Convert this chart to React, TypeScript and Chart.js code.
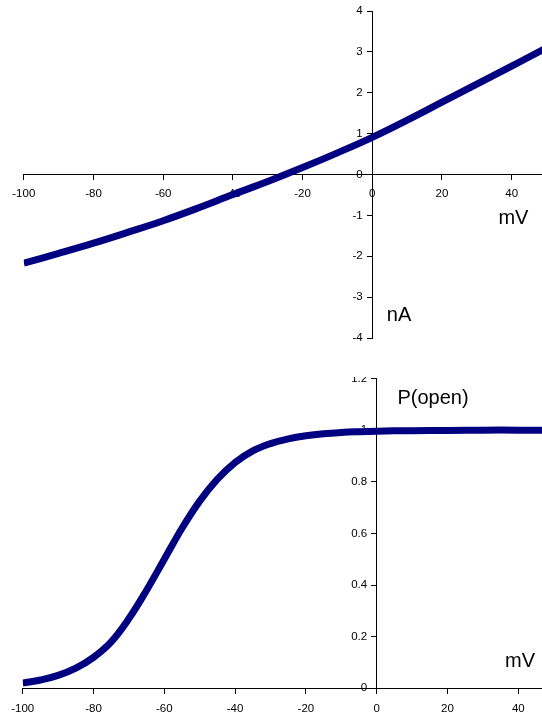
import React, { useEffect, useRef } from "react";
import { Chart, registerables } from "chart.js";

Chart.register(...registerables);

// ---- Data ----
const ivVoltages = [-100, -90, -80, -70, -60, -50, -40, -30, -20, -10, 0, 10, 20, 30, 40, 50];
const ivCurrents = [-2.17, -1.93, -1.68, -1.41, -1.13, -0.82, -0.49, -0.17, 0.17, 0.53, 0.91, 1.33, 1.77, 2.21, 2.65, 3.1];

const popVoltages = [-100, -95, -90, -85, -80, -75, -70, -65, -60, -55, -50, -45, -40, -35, -30, -25, -20, -15, -10, -5, 0, 10, 20, 30, 40, 50];
const popValues = [0.02, 0.032, 0.05, 0.078, 0.12, 0.18, 0.27, 0.38, 0.5, 0.62, 0.725, 0.81, 0.875, 0.92, 0.948, 0.966, 0.978, 0.986, 0.991, 0.994, 0.996, 0.998, 0.999, 1, 1, 1];

const voltageTicks = [-100, -80, -60, -40, -20, 0, 20, 40];
const currentTicks = [-4, -3, -2, -1, 0, 1, 2, 3, 4];
const probTicks = [0, 0.2, 0.4, 0.6, 0.8, 1, 1.2];

const ivAxisTitles = [
  { text: "mV", x: 40.5, y: -1.08 },
  { text: "nA", x: 7.7, y: -3.44 },
];
const popAxisTitles = [
  { text: "P(open)", x: 15.9, y: 1.124 },
  { text: "mV", x: 40.5, y: 0.103 },
];

const FONT = '"Liberation Sans", Arial, Helvetica, sans-serif';
const LINE_COLOR = "#000080";
const Y_LABEL_GAP = 9.5;

function textPlugin(labels: { text: string; x: number; y: number }[]) {
  return {
    id: "axisTitles",
    beforeDraw(chart: any) {
      // crossing y axis: move its tick labels off the axis line (left side)
      const items = chart.scales.y.getLabelItems();
      items.forEach((it: any) => {
        it.options.translation[0] -= Y_LABEL_GAP;
      });
    },
    afterDraw(chart: any) {
      const { ctx, scales } = chart;
      ctx.save();
      ctx.font = `20px ${FONT}`;
      ctx.fillStyle = "#000";
      ctx.textAlign = "center";
      ctx.textBaseline = "middle";
      labels.forEach((l) => {
        ctx.fillText(l.text, scales.x.getPixelForValue(l.x), scales.y.getPixelForValue(l.y));
      });
      ctx.restore();
    },
  };
}

function axisOpts(tickValues: number[], pad: number, extra: any) {
  return {
    type: "linear",
    afterBuildTicks: (scale: any) => {
      scale.ticks = tickValues.map((v) => ({ value: v }));
    },
    border: { display: true, color: "#000", width: 1 },
    grid: {
      display: true,
      drawOnChartArea: false,
      drawTicks: true,
      tickLength: 5,
      tickColor: "#000",
      color: "#000",
      lineWidth: 1,
    },
    ticks: {
      font: { size: 11.5, family: FONT },
      color: "#000",
      padding: pad,
      autoSkip: false,
      maxRotation: 0,
      callback: (v: any) => String(v),
    },
    ...extra,
  };
}

function makeChart(
  canvas: HTMLCanvasElement,
  xs: number[],
  ys: number[],
  yMin: number,
  yMax: number,
  yTicks: number[],
  xPad: number,
  padding: any,
  titles: { text: string; x: number; y: number }[]
) {
  return new Chart(canvas, {
    type: "line",
    data: {
      datasets: [
        {
          data: xs.map((x, i) => ({ x, y: ys[i] })),
          borderColor: LINE_COLOR,
          backgroundColor: LINE_COLOR,
          borderWidth: 7,
          borderJoinStyle: "round",
          pointRadius: 0,
          fill: false,
          tension: 0.4,
        },
      ],
    },
    options: {
      responsive: false,
      animation: false,
      devicePixelRatio: 1,
      layout: { padding },
      plugins: { legend: { display: false }, tooltip: { enabled: false } },
      scales: {
        x: axisOpts(voltageTicks, xPad, { min: -100, max: 50, position: { y: 0 } }),
        y: axisOpts(yTicks, 3, { min: yMin, max: yMax, position: { x: 0 } }),
      },
    } as any,
    plugins: [textPlugin(titles)],
  });
}

export default function App() {
  const topRef = useRef<HTMLCanvasElement>(null);
  const botRef = useRef<HTMLCanvasElement>(null);

  useEffect(() => {
    const c1 = makeChart(
      topRef.current!,
      ivVoltages,
      ivCurrents,
      -4,
      4,
      currentTicks,
      7.5,
      { left: 23.8, right: 13.5, top: 11, bottom: 12 },
      ivAxisTitles
    );
    const c2 = makeChart(
      botRef.current!,
      popVoltages,
      popValues,
      0,
      1.2,
      probTicks,
      8.5,
      { left: 22.7, right: 16.3, top: 11.5, bottom: 28.7 },
      popAxisTitles
    );
    return () => {
      c1.destroy();
      c2.destroy();
    };
  }, []);

  return (
    <div
      style={{
        position: "fixed",
        left: 0,
        top: 0,
        width: 542,
        height: 717,
        overflow: "hidden",
        background: "#fff",
      }}
    >
      <canvas
        ref={topRef}
        width={560}
        height={350}
        style={{ position: "absolute", left: 0, top: 0, width: 560, height: 350 }}
      />
      <div
        style={{
          position: "absolute",
          left: 0,
          top: 377,
          width: 542,
          height: 340,
          overflow: "hidden",
        }}
      >
        <canvas
          ref={botRef}
          width={570}
          height={350}
          style={{ position: "absolute", left: 0, top: -10, width: 570, height: 350 }}
        />
      </div>
    </div>
  );
}
